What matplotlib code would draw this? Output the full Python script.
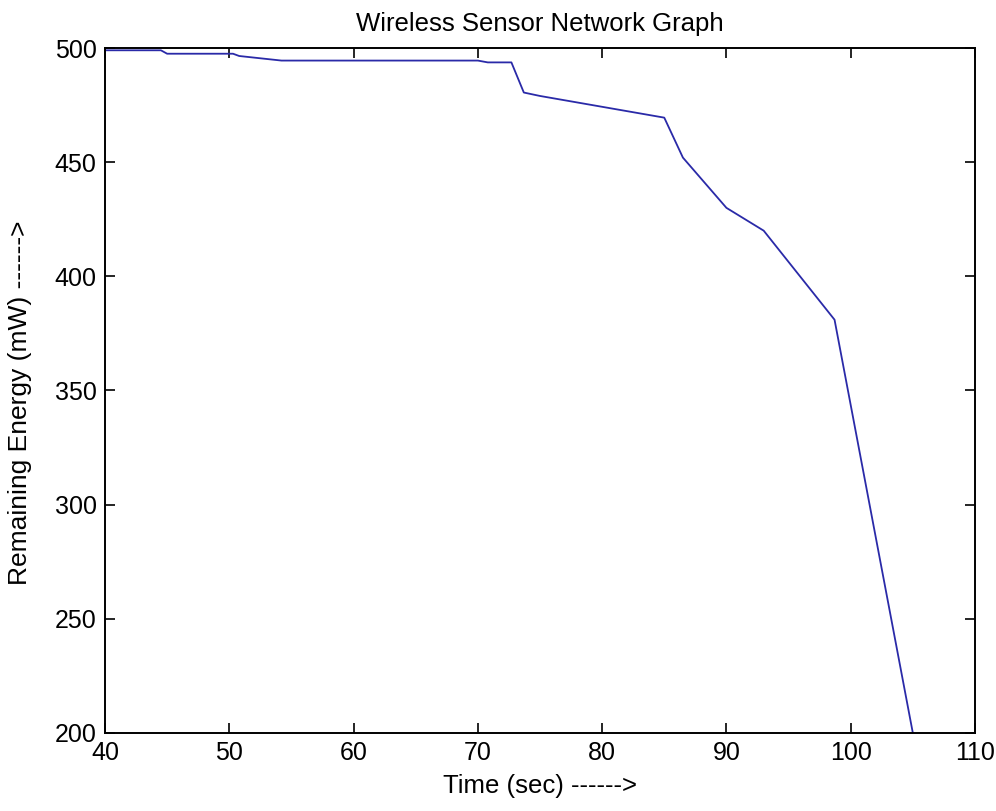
import matplotlib
matplotlib.use("Agg")
import matplotlib.pyplot as plt

# Remaining energy of the network over time
time_sec = [40, 44.5, 45, 50.3, 50.8, 52.5, 54.2, 70, 70.8, 72.7, 73.7, 75,
            85, 86.5, 90, 93, 98.7, 105]
energy_mw = [499, 499, 497.5, 497.5, 496.5, 495.5, 494.5, 494.5, 493.7, 493.7,
             480.5, 479, 469.5, 452, 430, 420, 381, 200]

xticks = [40, 50, 60, 70, 80, 90, 100, 110]
yticks = [200, 250, 300, 350, 400, 450, 500]

plt.rcParams['font.family'] = ['Liberation Sans', 'DejaVu Sans']

fig = plt.figure(figsize=(9.96, 8.11), dpi=100)
ax = fig.add_axes([0.1054, 0.0962, 0.8735, 0.8446])

ax.plot(time_sec, energy_mw, color='#2a2aa8', linewidth=1.3)

ax.set_xlim(40, 110)
ax.set_ylim(200, 500)
ax.set_xticks(xticks)
ax.set_yticks(yticks)
ax.tick_params(direction='in', length=7, width=1.2, top=True, right=True,
               labelsize=18, pad=6, colors='black')
for sp in ax.spines.values():
    sp.set_linewidth(1.4)

ax.set_title('Wireless Sensor Network Graph', fontsize=18.5, pad=12)
ax.set_xlabel('Time (sec) ------>', fontsize=18.5, labelpad=6)
ax.set_ylabel('Remaining Energy (mW) ------>', fontsize=19)
ax.yaxis.set_label_coords(-0.084, 0.482)

fig.savefig('out.png', dpi=100)
